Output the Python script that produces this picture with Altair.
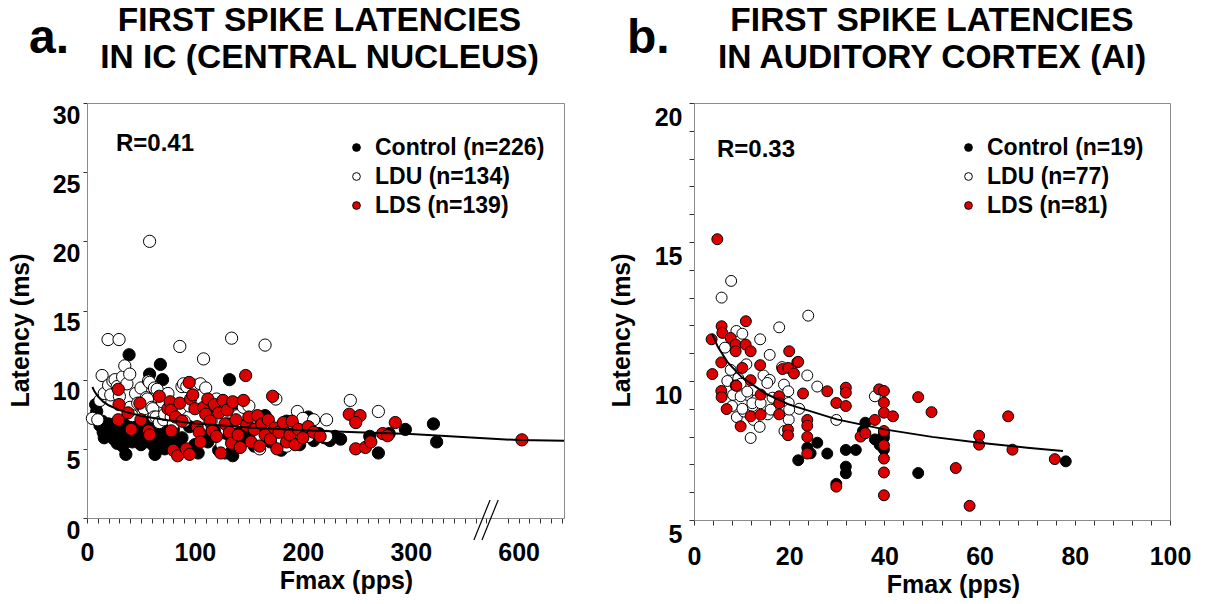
import altair as alt
import pandas as pd

FONT = "Liberation Sans"
RED = "#dc0000"
GRAY = "#8c8c8c"

# ================= Panel a : IC (central nucleus) =================
a_labels = ["Control (n=226)", "LDU (n=134)", "LDS (n=139)"]
a_ctrl_f = [8, 9, 12, 14, 15, 16, 18, 20, 22, 24, 25, 27, 28, 30, 32, 33, 35, 36, 38, 39,
            40, 42, 44, 45, 47, 48, 50, 52, 54, 55, 57, 58, 60, 62, 62, 63, 66, 68, 68, 70,
            72, 72, 75, 76, 80, 82, 85, 88, 92, 95, 100, 103, 108, 112, 115, 118, 122, 125, 128, 130,
            132, 135, 137, 140, 143, 148, 150, 155, 160, 165, 170, 175, 180, 185, 188, 192, 197, 200, 205, 210,
            215, 220, 225, 230, 235, 262, 270, 280, 295, 321, 324]
a_ctrl_ms = [8.2, 7.7, 6.7, 7.0, 6.2, 5.8, 6.0, 6.8, 6.5, 6.0, 5.7, 6.4, 5.4, 7.0, 6.2, 5.2, 5.8, 4.6, 6.3, 11.8,
             6.8, 5.5, 7.2, 6.1, 6.7, 5.6, 5.3, 6.3, 6.8, 5.9, 5.5, 10.4, 6.5, 5.2, 7.0, 4.6, 5.6, 11.1, 6.2, 10.0,
             6.0, 5.0, 5.3, 6.8, 6.4, 5.6, 5.1, 5.8, 4.8, 6.6, 5.3, 4.7, 6.0, 5.5, 8.1, 6.3, 4.9, 5.6, 4.7, 6.8,
             10.0, 4.5, 8.3, 6.1, 5.4, 7.2, 6.0, 5.2, 6.6, 7.4, 5.5, 6.2, 4.9, 7.0, 5.7, 6.4, 5.3, 6.8, 7.3, 5.6,
             6.1, 5.8, 5.6, 5.9, 5.7, 5.9, 4.7, 6.1, 6.4, 6.8, 5.5]
a_ldu_f = [5, 10, 12, 14, 16, 19.5, 20, 22, 24, 26, 28, 29.7, 30, 33, 35, 37, 39.6, 40, 42, 45,
           47, 50, 52, 53, 55, 56, 57, 58, 58, 60, 61, 62, 62.5, 64, 65, 67, 70, 71, 72, 75,
           78, 80, 86, 86.5, 88, 89.5, 90, 92.5, 95, 100, 105, 105, 108, 110, 115, 120, 125, 134, 140, 145,
           150, 155, 160, 165, 170, 175, 180, 185, 190, 195, 200, 205, 210, 222, 222, 244, 270]
a_ldu_ms = [7.2, 7.1, 8.5, 10.3, 9.0, 12.9, 9.6, 8.9, 9.9, 10.0, 9.5, 12.9, 8.8, 10.2, 11.0, 9.7, 10.4, 8.0, 7.4, 9.0,
            8.3, 9.4, 7.7, 7.9, 8.7, 8.6, 9.9, 20.0, 9.8, 8.0, 7.9, 7.3, 9.4, 7.3, 9.3, 6.9, 8.4, 7.1, 7.5, 9.0,
            7.3, 6.8, 12.4, 7.9, 9.5, 9.7, 7.0, 9.5, 8.1, 9.6, 9.7, 6.5, 11.5, 9.4, 7.0, 8.6, 5.3, 13.0, 7.4, 8.0,
            8.1, 6.5, 5.0, 12.5, 6.3, 8.6, 6.3, 5.2, 6.9, 7.7, 7.2, 5.9, 7.1, 7.1, 5.9, 8.5, 7.7]
a_lds_f = [29, 29.7, 29, 38, 41, 49, 50, 57, 58, 67, 75, 77, 78, 78, 80, 82, 84, 86, 88, 92,
           94.7, 95, 96, 98, 100, 102, 104, 105, 108, 110, 112, 114, 116, 118, 120, 122, 124, 126, 128, 130,
           132, 134, 135, 138, 140, 142, 145, 147, 148, 150, 152, 155, 158, 160, 162, 165, 168, 170, 172, 174,
           176, 178, 182, 185, 188, 190, 193, 196, 200, 205, 210, 216, 243, 253, 249, 249, 258, 263, 274, 278.5,
           285.7, 603]
a_lds_ms = [9.3, 8.2, 7.1, 7.6, 6.4, 8.3, 7.1, 6.3, 6.0, 8.8, 7.9, 8.4, 7.8, 6.3, 4.9, 7.3, 4.5, 8.3, 7.0, 5.0,
            9.8, 4.6, 8.6, 8.9, 7.9, 6.6, 6.2, 5.5, 8.0, 7.5, 8.6, 7.0, 6.3, 8.2, 5.9, 7.6, 4.7, 8.5, 6.8, 7.8,
            6.2, 5.4, 8.4, 7.1, 6.0, 5.1, 8.5, 10.3, 6.7, 7.3, 5.5, 6.4, 7.4, 5.2, 6.8, 6.0, 7.1, 5.7, 8.8, 6.5,
            5.0, 6.2, 6.9, 5.5, 6.0, 7.0, 5.3, 6.4, 5.8, 6.6, 6.2, 5.9, 7.5, 7.4, 6.9, 5.0, 5.1, 5.5, 6.1, 5.95,
            6.9, 5.65]
a_fit_f = [5, 7, 10, 15, 20, 30, 50, 75, 100, 150, 200, 250, 300, 600, 642]
a_fit_ms = [9.47, 9.14, 8.79, 8.41, 8.15, 7.80, 7.38, 7.06, 6.84, 6.54, 6.34, 6.19, 6.07, 5.63, 5.59]
a_break_at = 370          # axis break (display units); values above 400 pps are shifted by 200
a_xtick_vals = list(range(0, 371, 10)) + list(range(390, 441, 10))
a_ytick_vals = [0, 5, 10, 15, 20, 25, 30]

# ================= Panel b : auditory cortex (AI) =================
b_labels = ["Control (n=19)", "LDU (n=77)", "LDS (n=81)"]
b_ctrl_f = [21.9, 23.8, 24.5, 25.9, 28.0, 29.9, 31.9, 31.9, 31.9, 34.0, 35.5, 36.0, 38.0, 39.0, 39.9, 39.9, 39.9, 47.1, 78.1]
b_ctrl_ms = [7.15, 7.6, 7.4, 7.78, 7.39, 6.3, 7.52, 6.92, 6.68, 7.52, 8.2, 8.5, 7.9, 7.7, 7.96, 7.54, 8.1, 6.69, 7.11]
b_ldu_f = [5.8, 7.8, 6.5, 7.0, 7.7, 8.0, 8.2, 8.9, 9.0, 9.3, 9.8, 10.15, 10.5, 11.0, 11.2, 11.9, 12.3, 12.5, 13.0, 13.8,
           13.9, 14.6, 15.5, 15.9, 15.9, 16.5, 17.0, 17.9, 18.5, 18.9, 19.0, 19.8, 19.9, 19.9, 22.1, 23.8, 24.0, 25.9, 29.9, 38.0,
           9.8, 10.15, 12.25, 14.0, 16.1, 20.0, 15.4, 11.2]
b_ldu_ms = [13.0, 13.6, 11.2, 10.0, 10.4, 9.1, 9.5, 11.8, 8.7, 10.1, 9.9, 11.7, 8.9, 10.6, 9.5, 7.95, 9.1, 8.6, 9.3, 8.35,
            11.5, 10.2, 8.8, 10.94, 10.04, 9.4, 9.0, 11.93, 10.5, 9.87, 8.2, 9.63, 9.21, 8.61, 9.0, 10.2, 12.35, 9.8, 8.6, 9.45,
            9.45, 9.0, 9.2, 9.2, 8.97, 8.97, 9.93, 9.62]
b_lds_f = [3.7, 3.85, 4.9, 5.74, 5.74, 5.8, 5.8, 5.95, 6.86, 7.7, 8.75, 8.75, 8.75, 8.9, 9.8, 10.15, 10.85, 10.9, 11.9, 11.9,
           11.9, 13.9, 14.0, 14.0, 17.9, 17.9, 17.9, 18.6, 19.75, 19.75, 19.8, 20.0, 21.0, 21.7, 21.9, 22.9, 23.8, 23.8, 23.8, 23.8,
           28.0, 29.9, 29.9, 31.9, 31.9, 31.9, 35.0, 36.0, 38.0, 38.9, 39.9, 39.9, 39.9, 39.9, 39.9, 39.9, 39.9, 39.9, 41.8, 47.1,
           49.9, 55.0, 57.9, 59.9, 59.9, 66.0, 66.9, 75.8]
b_lds_ms = [11.5, 10.25, 15.1, 10.67, 9.64, 11.97, 9.42, 11.73, 8.99, 11.55, 11.31, 11.07, 9.84, 9.83, 8.37, 10.47, 11.31, 12.15, 11.07, 10.03,
            8.73, 10.57, 9.51, 8.79, 9.45, 9.2, 8.8, 10.43, 8.25, 8.05, 10.47, 11.07, 10.27, 10.67, 10.69, 9.55, 8.6, 8.39, 7.99, 7.39,
            9.63, 9.21, 6.2, 9.76, 9.58, 9.1, 8.0, 8.12, 8.6, 9.7, 9.64, 9.22, 8.86, 8.2, 7.69, 7.21, 6.71, 5.89, 8.73, 9.42,
            8.88, 6.87, 5.51, 8.03, 7.71, 8.73, 7.53, 7.19]
b_fit_f = [3.8, 5, 7, 10, 15, 20, 30, 40, 50, 60, 70, 77.5]
b_fit_ms = [11.7, 11.23, 10.69, 10.14, 9.55, 9.15, 8.62, 8.26, 7.99, 7.78, 7.60, 7.48]
b_xtick_vals = list(range(0, 101, 4))
b_ytick_vals = list(range(5, 21, 1))


def points_df(groups, labels):
    rows = []
    for rank, ((fs, ms), lab) in enumerate(zip(groups, labels)):
        for f, m in zip(fs, ms):
            rows.append({"f": f, "ms": m, "grp": lab, "rank": rank})
    return pd.DataFrame(rows)


def panel(df, fit, labels, W, H, xscale, yscale, xaxis, yaxis, xexpr, size,
          legend_xy, r_text, r_xy, tag, tag_x, title_lines, title_dx, extra=None):
    X = "Fmax (pps)"
    Y = "Latency (ms)"
    pts = alt.Chart(df).transform_calculate(xd=xexpr).mark_circle(
        size=size, opacity=1, fillOpacity=1, stroke="black", strokeWidth=1
    ).encode(
        x=alt.X("xd:Q", scale=xscale, axis=xaxis, title=X),
        y=alt.Y("ms:Q", scale=yscale, axis=yaxis, title=Y),
        fill=alt.Fill("grp:N",
                      scale=alt.Scale(domain=labels, range=["black", "white", RED]),
                      legend=alt.Legend(orient="none", legendX=legend_xy[0], legendY=legend_xy[1],
                                        title=None, labelFont=FONT, labelFontSize=23,
                                        labelFontWeight="bold", labelColor="black", labelLimit=400,
                                        symbolType="circle", symbolSize=60,
                                        symbolStrokeColor="black", symbolStrokeWidth=1,
                                        labelOffset=7, rowPadding=5)),
        order=alt.Order("rank:Q"),
    )
    line = alt.Chart(fit).transform_calculate(xd=xexpr).mark_line(
        color="black", strokeWidth=2
    ).encode(x=alt.X("xd:Q", axis=xaxis, title=X), y=alt.Y("ms:Q", axis=yaxis, title=Y))
    r = alt.Chart(pd.DataFrame({"t": [r_text]})).mark_text(
        align="left", baseline="middle", font=FONT, fontSize=24, fontWeight="bold", color="black"
    ).encode(text="t:N", x=alt.value(r_xy[0]), y=alt.value(r_xy[1]))
    t1 = alt.Chart(pd.DataFrame({"t": [title_lines[0]]})).mark_text(
        align="center", baseline="alphabetic", font=FONT, fontSize=33.5, fontWeight="bold", color="black"
    ).encode(text="t:N", x=alt.value(W / 2 + title_dx), y=alt.value(-72))
    t2 = alt.Chart(pd.DataFrame({"t": [title_lines[1]]})).mark_text(
        align="center", baseline="alphabetic", font=FONT, fontSize=33.5, fontWeight="bold", color="black"
    ).encode(text="t:N", x=alt.value(W / 2 + title_dx), y=alt.value(-35))
    tg = alt.Chart(pd.DataFrame({"t": [tag]})).mark_text(
        align="left", baseline="alphabetic", font=FONT, fontSize=48, fontWeight="bold", color="black"
    ).encode(text="t:N", x=alt.value(tag_x), y=alt.value(-50))
    layers = [pts, line]
    if extra is not None:
        layers.append(extra)
    layers += [r, t1, t2, tg]
    return alt.layer(*layers).properties(width=W, height=H)


# ---------- panel a ----------
WA, HA = 477, 415
a_df = points_df([(a_ctrl_f, a_ctrl_ms), (a_ldu_f, a_ldu_ms), (a_lds_f, a_lds_ms)], a_labels)
a_fit = pd.DataFrame({"f": a_fit_f, "ms": a_fit_ms})
a_expr = "datum.f > 400 ? datum.f - 200 : datum.f"
a_xaxis = alt.Axis(values=a_xtick_vals, labelOverlap=False, labelFlush=False, labelBound=False,
                   labelExpr="datum.value == 400 ? '600' : (datum.value % 100 == 0 && datum.value <= 300 ? datum.label : '')",
                   tickSize=5, labelPadding=17, titleX=259, titleY=70, titleBaseline="alphabetic")
a_yaxis = alt.Axis(values=a_ytick_vals, labelOverlap=False, labelFlush=False, tickSize=4,
                   labelPadding=3, labelOffset=12, titleAngle=270, titleX=-59, titleY=227,
                   titleBaseline="alphabetic", titleAlign="center")
brk = pd.DataFrame({"x1": [a_break_at - 11.5, a_break_at - 4],
                    "x2": [a_break_at + 3.5, a_break_at + 11]})
a_break = alt.Chart(brk).mark_rule(color="black", strokeWidth=1.2).encode(
    x=alt.X("x1:Q", axis=a_xaxis, title="Fmax (pps)"), x2="x2:Q",
    y=alt.value(HA + 22), y2=alt.value(HA - 18))
pa = panel(a_df, a_fit, a_labels, WA, HA,
           alt.Scale(domain=[0, 442], nice=False, zero=False),
           alt.Scale(domain=[0, 30], nice=False),
           a_xaxis, a_yaxis, a_expr, 150,
           (258, 33), "R=0.41", (29, 41), "a.", -58,
           ["FIRST SPIKE LATENCIES", "IN IC (CENTRAL NUCLEUS)"], -6, extra=a_break)

# ---------- panel b ----------
WB, HB = 476, 417
b_df = points_df([(b_ctrl_f, b_ctrl_ms), (b_ldu_f, b_ldu_ms), (b_lds_f, b_lds_ms)], b_labels)
b_fit = pd.DataFrame({"f": b_fit_f, "ms": b_fit_ms})
b_expr = "datum.f"
b_xaxis = alt.Axis(values=b_xtick_vals, labelOverlap=False, labelFlush=False, labelBound=False,
                   labelExpr="datum.value % 20 == 0 ? datum.label : ''",
                   tickSize=5, labelPadding=19, titleX=259, titleY=72, titleBaseline="alphabetic")
b_yaxis = alt.Axis(values=b_ytick_vals, labelOverlap=False, labelFlush=False, tickSize=5,
                   labelExpr="datum.value % 5 == 0 ? datum.label : ''",
                   labelPadding=7, labelOffset=14, titleAngle=270, titleX=-65, titleY=227,
                   titleBaseline="alphabetic", titleAlign="center")
pb = panel(b_df, b_fit, b_labels, WB, HB,
           alt.Scale(domain=[0, 100], nice=False),
           alt.Scale(domain=[5, 20], nice=False, zero=False),
           b_xaxis, b_yaxis, b_expr, 120,
           (263, 33), "R=0.33", (23, 47), "b.", -67,
           ["FIRST SPIKE LATENCIES", "IN AUDITORY CORTEX (AI)"], 0)

chart = alt.hconcat(pa, pb, spacing=130, bounds="flush").resolve_scale(
    fill="independent", x="independent", y="independent"
).properties(
    padding={"left": 7, "top": 3, "right": 5, "bottom": 5},
    background="white",
).configure_view(
    stroke=GRAY, strokeWidth=1
).configure_axis(
    labelFont=FONT, labelFontSize=25, labelFontWeight="bold", labelColor="black",
    titleFont=FONT, titleFontSize=25, titleFontWeight="bold", titleColor="black",
    grid=False, domainColor=GRAY, domainWidth=1, tickColor="#333333", tickWidth=1,
    labelOverlap=False,
)

chart.save("out.html", embed_options={"renderer": "svg", "actions": False})
